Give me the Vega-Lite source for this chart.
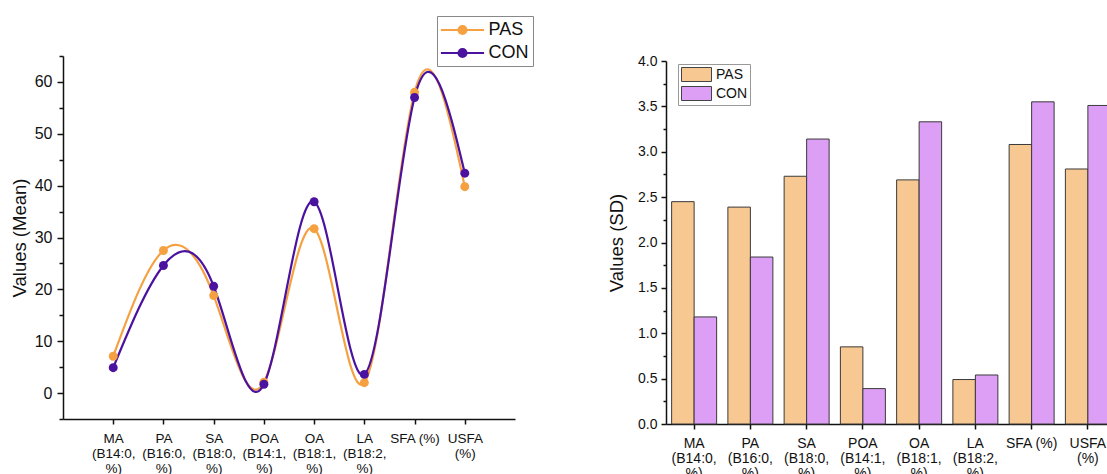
{
  "$schema": "https://vega.github.io/schema/vega-lite/v6.json",
  "background": "white",
  "padding": {"left": 10, "top": 15, "right": 0, "bottom": 0},
  "config": {
    "view": {"stroke": null},
    "font": "Liberation Sans",
    "axis": {"domainColor": "#111", "tickColor": "#111", "labelColor": "#111", "titleColor": "#111", "grid": false, "titleFontWeight": "normal", "domainWidth": 1.5, "tickWidth": 1.5, "labelFont": "Liberation Sans", "titleFont": "Liberation Sans"},
    "legend": {"labelFont": "Liberation Sans", "labelColor": "#111"}
  },
  "datasets": {
    "mean": [
      {"cat": "MA (B14:0, %)", "group": "PAS", "value": 7.1},
      {"cat": "PA (B16:0, %)", "group": "PAS", "value": 27.5},
      {"cat": "SA (B18:0, %)", "group": "PAS", "value": 18.8},
      {"cat": "POA (B14:1, %)", "group": "PAS", "value": 2.1},
      {"cat": "OA (B18:1, %)", "group": "PAS", "value": 31.7},
      {"cat": "LA (B18:2, %)", "group": "PAS", "value": 2.0},
      {"cat": "SFA (%)", "group": "PAS", "value": 58.0},
      {"cat": "USFA (%)", "group": "PAS", "value": 39.8},
      {"cat": "MA (B14:0, %)", "group": "CON", "value": 4.9},
      {"cat": "PA (B16:0, %)", "group": "CON", "value": 24.6},
      {"cat": "SA (B18:0, %)", "group": "CON", "value": 20.6},
      {"cat": "POA (B14:1, %)", "group": "CON", "value": 1.7},
      {"cat": "OA (B18:1, %)", "group": "CON", "value": 36.9},
      {"cat": "LA (B18:2, %)", "group": "CON", "value": 3.6},
      {"cat": "SFA (%)", "group": "CON", "value": 57.0},
      {"cat": "USFA (%)", "group": "CON", "value": 42.4}
    ],
    "sd": [
      {"cat": "MA (B14:0, %)", "group": "PAS", "value": 2.45},
      {"cat": "PA (B16:0, %)", "group": "PAS", "value": 2.39},
      {"cat": "SA (B18:0, %)", "group": "PAS", "value": 2.73},
      {"cat": "POA (B14:1, %)", "group": "PAS", "value": 0.85},
      {"cat": "OA (B18:1, %)", "group": "PAS", "value": 2.69},
      {"cat": "LA (B18:2, %)", "group": "PAS", "value": 0.49},
      {"cat": "SFA (%)", "group": "PAS", "value": 3.08},
      {"cat": "USFA (%)", "group": "PAS", "value": 2.81},
      {"cat": "MA (B14:0, %)", "group": "CON", "value": 1.18},
      {"cat": "PA (B16:0, %)", "group": "CON", "value": 1.84},
      {"cat": "SA (B18:0, %)", "group": "CON", "value": 3.14},
      {"cat": "POA (B14:1, %)", "group": "CON", "value": 0.39},
      {"cat": "OA (B18:1, %)", "group": "CON", "value": 3.33},
      {"cat": "LA (B18:2, %)", "group": "CON", "value": 0.54},
      {"cat": "SFA (%)", "group": "CON", "value": 3.55},
      {"cat": "USFA (%)", "group": "CON", "value": 3.51}
    ]
  },
  "hconcat": [
    {
      "width": 452,
      "height": 363,
      "data": {"name": "mean"},
      "encoding": {
        "x": {
          "field": "cat", "type": "nominal", "sort": null,
          "scale": {"type": "point", "padding": 1},
          "axis": {"title": null, "labelAngle": 0, "labelFontSize": 13.5, "labelLineHeight": 15, "labelPadding": 7, "tickSize": 5, "labelExpr": "datum.value == 'SFA (%)' ? datum.value : split(datum.value, ' ')"}
        },
        "y": {
          "field": "value", "type": "quantitative",
          "scale": {"domain": [-5, 65], "nice": false, "zero": false},
          "axis": {
            "title": "Values (Mean)", "titleFontSize": 18.5, "titlePadding": 5,
            "values": [-5, 0, 5, 10, 15, 20, 25, 30, 35, 40, 45, 50, 55, 60, 65],
            "labelExpr": "datum.value % 10 === 0 ? datum.label : ''",
            "labelFontSize": 16, "labelPadding": 5,
            "tickSize": {"condition": {"test": "datum.value % 10 === 0", "value": 6}, "value": 4}
          }
        },
        "color": {
          "field": "group", "type": "nominal",
          "scale": {"domain": ["PAS", "CON"], "range": ["#F5A142", "#4B12A0"]},
          "legend": {
            "orient": "none", "legendX": 374, "legendY": -40, "title": null, "direction": "vertical",
            "symbolType": "M-2.4,0H2.4M-0.45,0A0.45,0.45,0,1,0,0.45,0A0.45,0.45,0,1,0,-0.45,0Z",
            "symbolSize": 324, "symbolStrokeWidth": 2,
            "symbolOffset": 11.5, "labelOffset": 16,
            "labelFontSize": 18, "rowPadding": 4, "padding": 4,
            "strokeColor": "#888", "fillColor": "white",
            "encode": {"symbols": {"update": {
              "stroke": {"signal": "datum.value === 'PAS' ? '#F5A142' : '#4B12A0'"},
              "fill": {"signal": "datum.value === 'PAS' ? '#F5A142' : '#4B12A0'"},
              "opacity": {"value": 1}
            }}}
          }
        }
      },
      "layer": [
        {
          "transform": [{"filter": "datum.group === 'PAS'"}],
          "mark": {"type": "line", "interpolate": "natural", "strokeWidth": 2.2}
        },
        {
          "transform": [{"filter": "datum.group === 'CON'"}],
          "mark": {"type": "line", "interpolate": "natural", "strokeWidth": 2.2}
        },
        {
          "mark": {"type": "point", "filled": true, "size": 80, "opacity": 1}
        }
      ]
    },
    {
      "width": 450,
      "height": 368,
      "data": {"name": "sd"},
      "mark": {"type": "bar", "stroke": "#3a3a3a", "strokeWidth": 1},
      "encoding": {
        "x": {
          "field": "cat", "type": "nominal", "sort": null,
          "scale": {"paddingInner": 0.2, "paddingOuter": 0.1},
          "axis": {"title": null, "labelAngle": 0, "labelFontSize": 14, "labelLineHeight": 15, "labelPadding": 7, "tickSize": 5, "labelExpr": "datum.value == 'SFA (%)' ? datum.value : split(datum.value, ' ')"}
        },
        "xOffset": {"field": "group", "type": "nominal", "sort": ["PAS", "CON"], "scale": {"paddingInner": 0}},
        "y": {
          "field": "value", "type": "quantitative",
          "scale": {"domain": [0, 4], "nice": false, "range": [368, 5]},
          "axis": {
            "title": "Values (SD)", "titleFontSize": 18.5, "titlePadding": 11,
            "values": [0, 0.25, 0.5, 0.75, 1, 1.25, 1.5, 1.75, 2, 2.25, 2.5, 2.75, 3, 3.25, 3.5, 3.75, 4],
            "labelExpr": "datum.value % 0.5 === 0 ? format(datum.value, '.1f') : ''",
            "labelFontSize": 14, "labelPadding": 4,
            "tickSize": {"condition": {"test": "datum.value % 0.5 === 0", "value": 5}, "value": 3}
          }
        },
        "color": {
          "field": "group", "type": "nominal",
          "scale": {"domain": ["PAS", "CON"], "range": ["#F8C893", "#DC9FF5"]},
          "legend": {
            "orient": "none", "legendX": 12, "legendY": 8, "title": null, "direction": "vertical",
            "symbolType": "M-1.875,-0.875H1.875V0.875H-1.875Z", "symbolSize": 256,
            "symbolStrokeColor": "#444", "symbolStrokeWidth": 1,
            "symbolOffset": 8, "labelOffset": 11, "labelFontSize": 14,
            "rowPadding": 0, "padding": 2, "strokeColor": "#999", "fillColor": "white"
          }
        }
      }
    }
  ],
  "spacing": 151,
  "bounds": "flush",
  "resolve": {"scale": {"color": "independent"}, "legend": {"color": "independent"}}
}
